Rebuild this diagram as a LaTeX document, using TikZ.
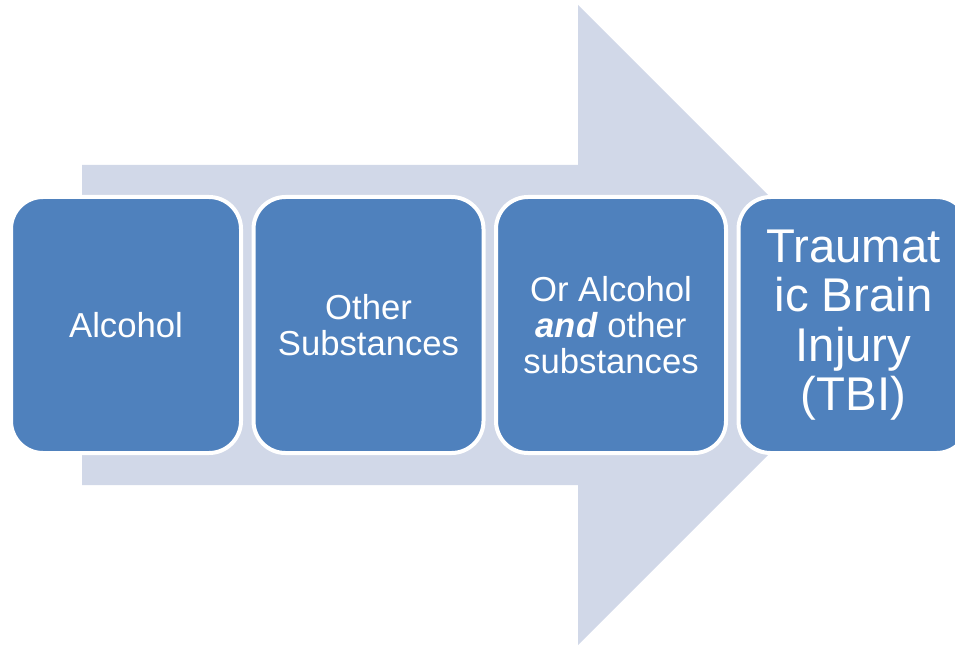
\documentclass[tikz,border=0pt]{standalone}
\usepackage{fontspec}
\setmainfont{Liberation Sans}
\usepackage{xcolor}
\usepackage{tikz}

\definecolor{arrowgray}{HTML}{D1D8E8}
\definecolor{boxblue}{HTML}{4F81BD}

\begin{document}
\begin{tikzpicture}[
    x=0.75pt, y=-0.75pt,
    stage/.style={rectangle, draw=white, line width=3pt, fill=boxblue, rounded corners=24pt, minimum width=172.5pt, minimum height=192pt, inner sep=0pt, align=center, text=white, font=\fontsize{26}{27}\selectfont},
    bigstage/.style={stage, font=\fontsize{35.5}{37}\selectfont}
]
    \useasboundingbox (0,0) rectangle (955,645);

    % Background arrow
    \fill[arrowgray] (82,165) -- (578,165) -- (578,5) -- (898,325) -- (578,645) -- (578,485) -- (82,485) -- cycle;

    % Stages
    \node[stage] (alcohol) at (126,325) {Alcohol};
    \node[stage] (other) at (368.5,325) {Other\\Substances};
    \node[stage] (both) at (611,325) {Or Alcohol\\\textbf{\textit{and}} other\\substances};
    \node[bigstage] (tbi) at (853.5,325) {Traumat\\ic Brain\\Injury\\(TBI)};
\end{tikzpicture}
\end{document}
